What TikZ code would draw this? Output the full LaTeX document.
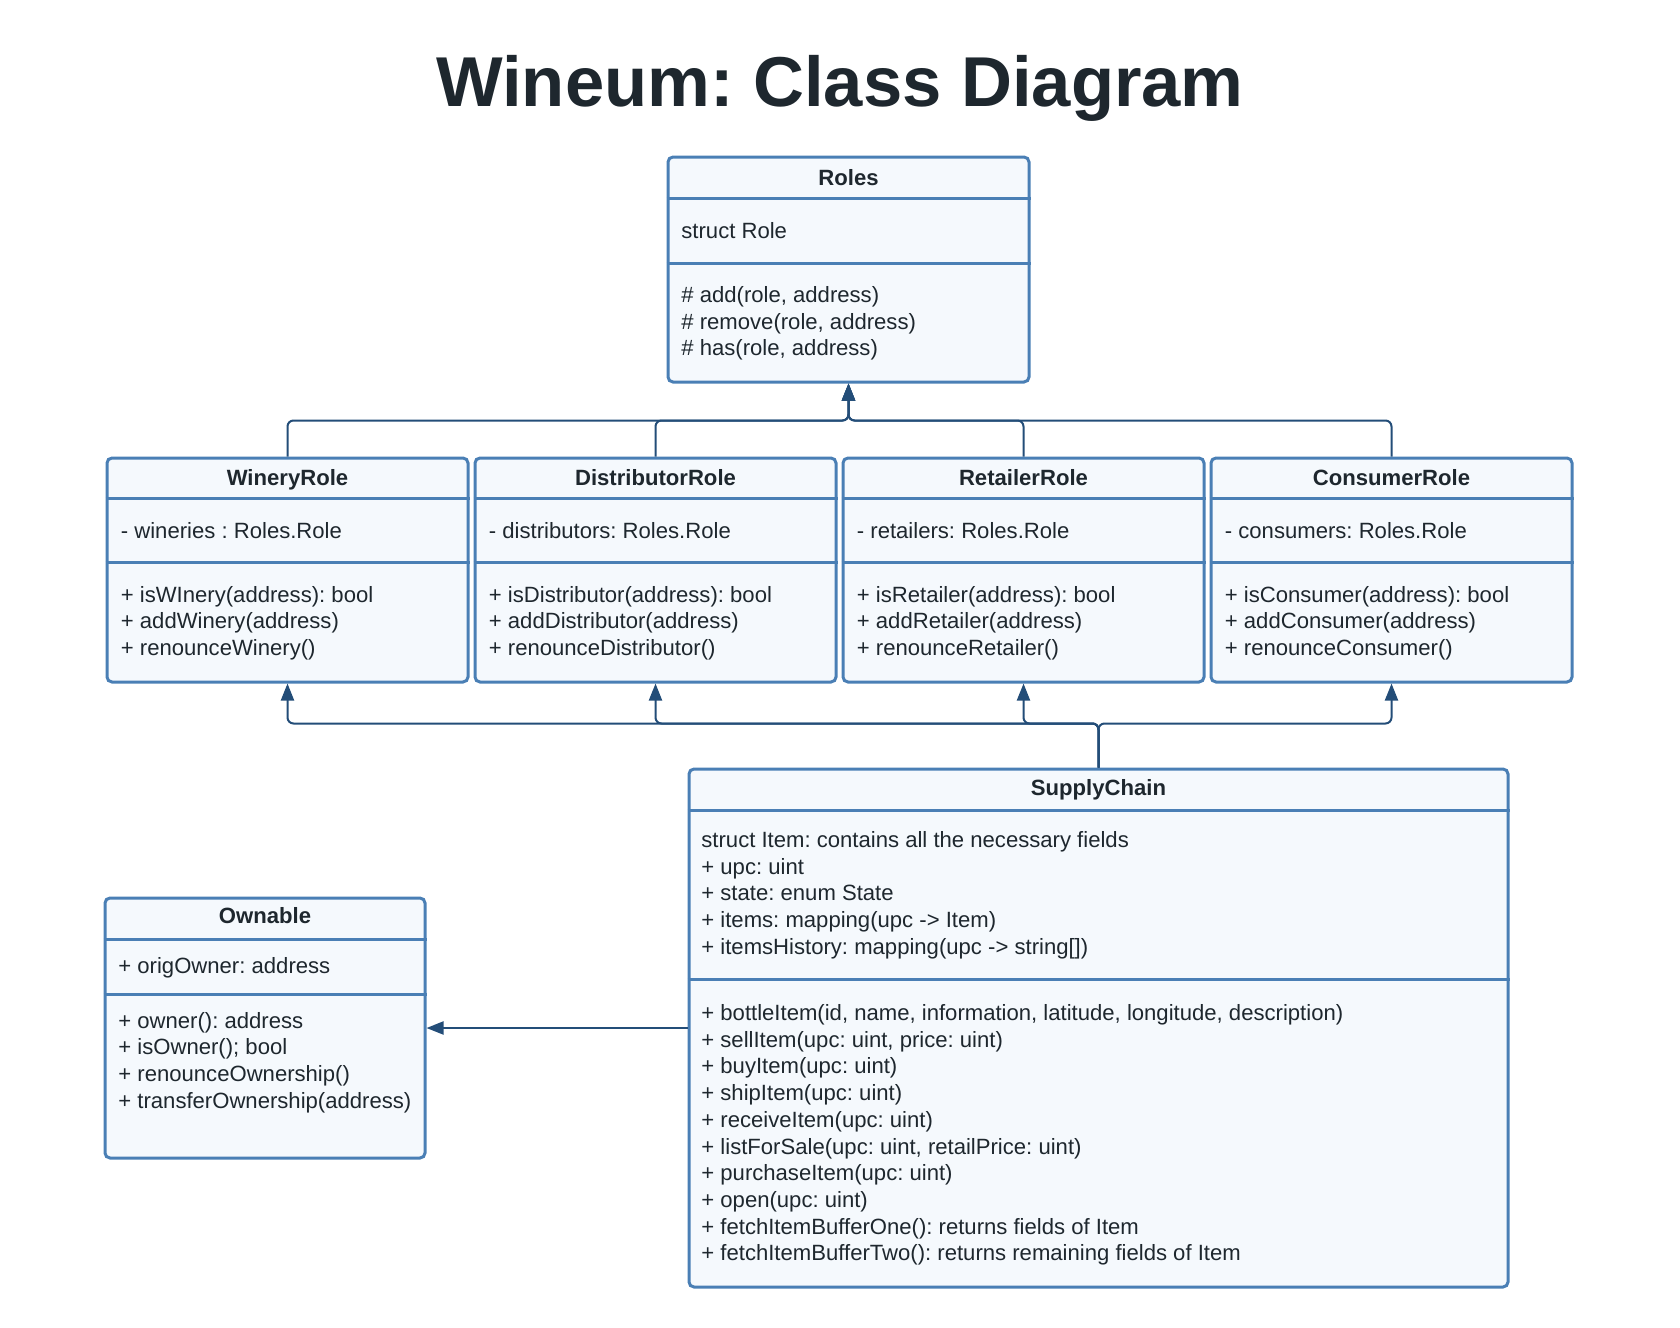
\documentclass[tikz,border=0pt]{standalone}
\usepackage{fontspec}
\setmainfont{Liberation Sans}
\usetikzlibrary{arrows.meta,fit,calc}
\frenchspacing

\definecolor{umlborder}{RGB}{74,127,181}
\definecolor{umlfill}{RGB}{245,249,253}
\definecolor{umlline}{RGB}{35,77,120}
\definecolor{umltext}{RGB}{30,39,46}

\tikzset{
  classbox/.style={draw=umlborder, fill=umlfill, line width=1.5pt, rounded corners=2.5pt, inner sep=0pt},
  classsep/.style={draw=umlborder, line width=1.5pt},
  classname/.style={anchor=base, inner sep=0pt, text=umltext, font=\fontsize{11.05}{13}\selectfont\bfseries},
  member/.style={anchor=base west, inner sep=0pt, text=umltext, font=\fontsize{11.05}{13}\selectfont},
  inherit/.style={draw=umlline, line width=1pt, rounded corners=3pt, -{Triangle[length=8.5pt,width=6.5pt]}},
}

\begin{document}
\begin{tikzpicture}[x=0.5pt, y=-0.5pt]
  \useasboundingbox (0,0) rectangle (1680,1327);

  \node[anchor=base, inner sep=0pt, text=umltext, font=\fontsize{35.3}{40}\selectfont\bfseries] (title) at (840,107) {Wineum: Class Diagram};

  % Roles
  \node[classbox, fit={(668,157) (1029,382)}] (roles) {};
  \draw[classsep] ($(roles.north west)+(0,43)$) -- ($(roles.north east)+(0,43)$);
  \draw[classsep] ($(roles.north west)+(0,108)$) -- ($(roles.north east)+(0,108)$);
  \node[classname] (roles-name) at (848.5,185) {Roles};
  \node[member] (roles-attr) at (681,238.5) {struct Role};
  \foreach \t [count=\i] in {{\# add(role, address)},{\# remove(role, address)},{\# has(role, address)}}
    \node[member] (roles-m\i) at (681,302.5+26.7*\i-26.7) {\t};

  % the four roles
  \foreach \nm/\x/\ti/\at/\ma/\mb/\mc in {
      winery/107/WineryRole/{- wineries : Roles.Role}/{+ isWInery(address): bool}/{+ addWinery(address)}/{+ renounceWinery()},
      distributor/475/DistributorRole/{- distributors: Roles.Role}/{+ isDistributor(address): bool}/{+ addDistributor(address)}/{+ renounceDistributor()},
      retailer/843/RetailerRole/{- retailers: Roles.Role}/{+ isRetailer(address): bool}/{+ addRetailer(address)}/{+ renounceRetailer()},
      consumer/1211/ConsumerRole/{- consumers: Roles.Role}/{+ isConsumer(address): bool}/{+ addConsumer(address)}/{+ renounceConsumer()}}{
    \node[classbox, fit={(\x,458) (\x+361,682)}] (\nm) {};
    \draw[classsep] ($(\nm.north west)+(0,42)$) -- ($(\nm.north east)+(0,42)$);
    \draw[classsep] ($(\nm.north west)+(0,106)$) -- ($(\nm.north east)+(0,106)$);
    \node[classname] (\nm-name) at (\x+180.5,485) {\ti};
    \node[member] (\nm-attr) at (\x+13.5,538.5) {\at};
    \node[member] (\nm-m1) at (\x+13.5,602) {\ma};
    \node[member] (\nm-m2) at (\x+13.5,628.7) {\mb};
    \node[member] (\nm-m3) at (\x+13.5,655.4) {\mc};
  }

  % SupplyChain
  \node[classbox, fit={(689,769) (1508,1287)}] (supplychain) {};
  \draw[classsep] ($(supplychain.north west)+(0,42.5)$) -- ($(supplychain.north east)+(0,42.5)$);
  \draw[classsep] ($(supplychain.north west)+(0,212)$) -- ($(supplychain.north east)+(0,212)$);
  \node[classname] (supplychain-name) at (1098.5,795.5) {SupplyChain};
  \foreach \t [count=\i] in {{struct Item: contains all the necessary fields},{+ upc: uint},{+ state: enum State},
      {+ items: mapping(upc -> Item)},{+ itemsHistory: mapping(upc -> string[])}}
    \node[member] (supplychain-a\i) at (701,847.5+26.7*\i-26.7) {\t};
  \foreach \t [count=\i] in {{+ bottleItem(id, name, information, latitude, longitude, description)},
      {+ sellItem(upc: uint, price: uint)},{+ buyItem(upc: uint)},{+ shipItem(upc: uint)},
      {+ receiveItem(upc: uint)},{+ listForSale(upc: uint, retailPrice: uint)},{+ purchaseItem(upc: uint)},
      {+ open(upc: uint)},{+ fetchItemBufferOne(): returns fields of Item},
      {+ fetchItemBufferTwo(): returns remaining fields of Item}}
    \node[member] (supplychain-m\i) at (701,1020.5+26.7*\i-26.7) {\t};

  % Ownable
  \node[classbox, fit={(105,898) (425,1158)}] (ownable) {};
  \draw[classsep] ($(ownable.north west)+(0,42.5)$) -- ($(ownable.north east)+(0,42.5)$);
  \draw[classsep] ($(ownable.north west)+(0,97.5)$) -- ($(ownable.north east)+(0,97.5)$);
  \node[classname] (ownable-name) at (265,923.5) {Ownable};
  \node[member] (ownable-attr) at (118,973) {+ origOwner: address};
  \foreach \t [count=\i] in {{+ owner(): address},{+ isOwner(); bool},{+ renounceOwnership()},{+ transferOwnership(address)}}
    \node[member] (ownable-m\i) at (118,1028+26.7*\i-26.7) {\t};

  % inheritance
  \coordinate (rolesjoin) at ($(roles.south)+(0,37)$);
  \coordinate (scjoin) at ($(supplychain.north)+(0,-44)$);
  \foreach \nm in {winery,distributor,retailer,consumer}{
    \draw[inherit] (\nm.north) |- (rolesjoin) -- (roles.south);
    \draw[inherit] (supplychain.north) -- (scjoin) -| (\nm.south);
  }
  \draw[inherit] (supplychain.west) -- (ownable.east);
\end{tikzpicture}
\end{document}
